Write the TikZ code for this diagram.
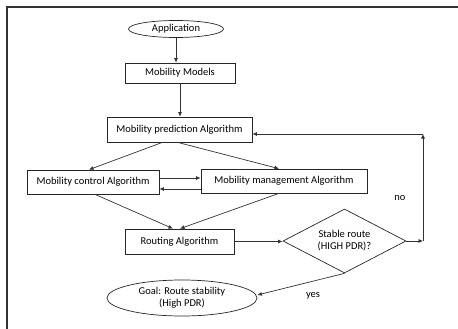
\documentclass[tikz,border=0pt]{standalone}
\usepackage{fontspec}
\setmainfont{Carlito}
\usetikzlibrary{shapes.geometric}
\usetikzlibrary{arrows.meta}

\begin{document}
\begin{tikzpicture}[x=1pt, y=-1pt,
    font=\fontsize{10.5}{12}\selectfont,
    box/.style={draw=black!85, line width=0.7pt, inner sep=0pt},
    oval/.style={box, ellipse},
    decide/.style={box, diamond, align=center},
    arr/.style={draw=black!80, line width=0.7pt, -{Latex[length=4.5pt,width=4pt]}}]
            \useasboundingbox (0,0) rectangle (458,329);
            \draw[black!80, line width=1.2pt] (7,329) -- (7,7) -- (458,7);

            \node[oval, minimum width=95, minimum height=17] (app) at (176,29) {Application};
            \node[box, minimum width=110, minimum height=20] (models) at (180,73) {Mobility Models};
            \node[box, minimum width=145, minimum height=25] (pred) at (179.5,129.5) {Mobility prediction Algorithm};
            \node[box, minimum width=132, minimum height=24] (control) at (93,182) {Mobility control Algorithm};
            \node[box, minimum width=166, minimum height=24] (mgmt) at (284,181) {Mobility management Algorithm};
            \node[box, minimum width=109, minimum height=25] (routing) at (179.5,241.5) {Routing Algorithm};
            \node[decide, minimum width=123, minimum height=64, aspect=1.9] (dec) at (344.5,241) {Stable route\\(HIGH PDR)?};
            \node[oval, minimum width=150, minimum height=36, align=center] (goal) at (182,298) {Goal: Route stability\\(High PDR)};

            \coordinate (fb_low) at (423,241);
            \coordinate (fb_high) at (423,134);

            % top chain
            \draw[arr] (app.south) -- (app.south |- models.north);
            \draw[arr] (models.south) -- (models.south |- pred.north);
            \draw[arr] ([xshift=-17pt]pred.south) -- ([xshift=-4pt]control.north);
            \draw[arr] ([xshift=-2pt]pred.south) -- ([xshift=-5pt]mgmt.north);

            % control <-> management
            \draw[arr] ([yshift=4pt]control.east) -- ([yshift=4pt]control.east -| mgmt.west);
            \draw[arr] ([yshift=-7pt]control.east -| mgmt.west) -- ([yshift=-7pt]control.east);

            \draw[arr] ([xshift=2pt]control.south) -- ([xshift=-6.5pt]routing.north);
            \draw[arr] ([xshift=-5pt]mgmt.south) -- ([xshift=0.5pt]routing.north);
            \draw[arr] (routing.east) -- (routing.east -| dec.west);

            % feedback loop
            \draw[arr] (dec.east) -- (fb_low);
            \draw[arr] (fb_low) -- (fb_high);
            \draw[arr] (fb_high) -- (pred.east |- fb_high);
            \draw[arr] (dec.south) -- ([yshift=3pt]goal.east);

            \node (no) at (400,198) {no};
            \node (yes) at (313,296) {yes};
        \end{tikzpicture}
\end{document}
